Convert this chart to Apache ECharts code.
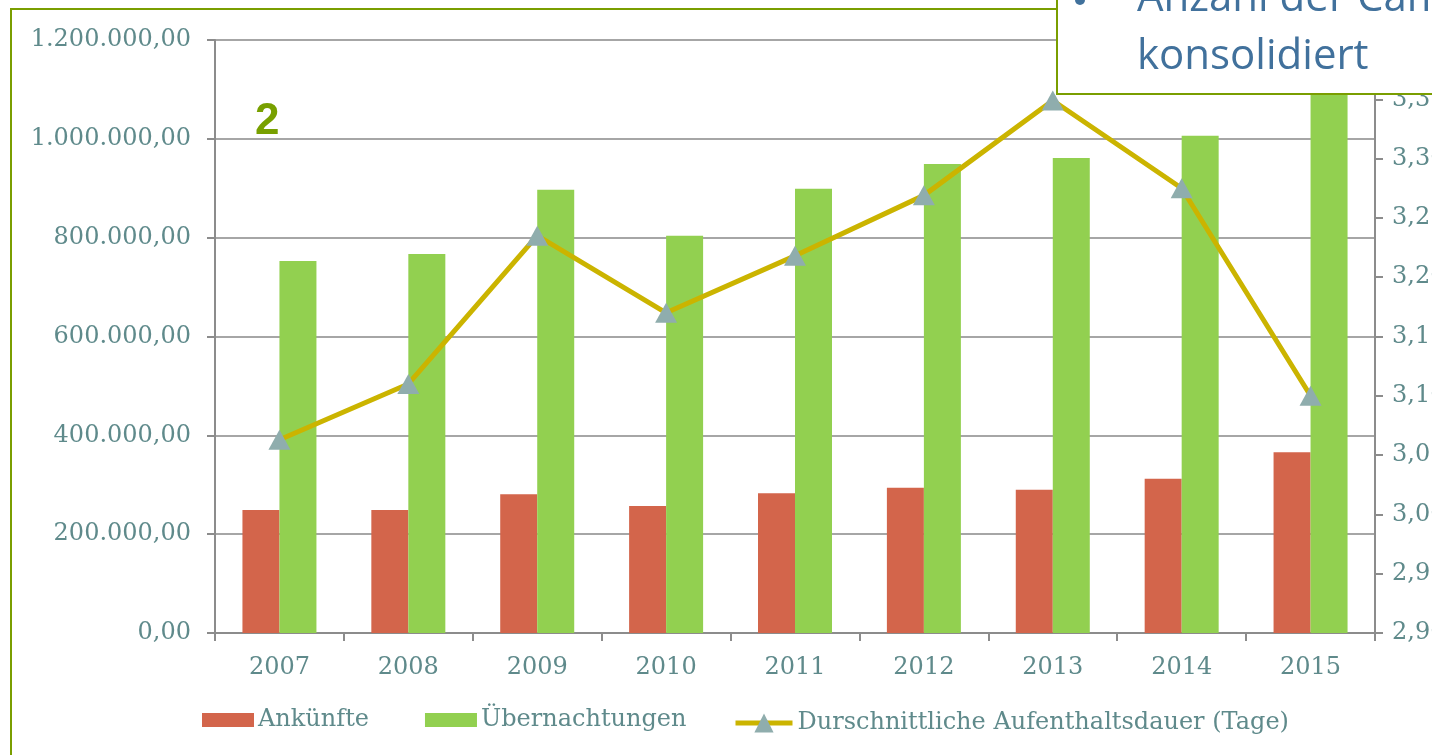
<!DOCTYPE html>
<html>
<head>
<meta charset="utf-8">
<style>
  html, body { margin: 0; padding: 0; background: #fff; }
  #chart { width: 1432px; height: 755px; }
</style>
<script src="https://cdn.jsdelivr.net/npm/echarts@6.0.0/dist/echarts.min.js"></script>
</head>
<body>
<div id="chart"></div>
<script>
// data
var years = ["2007", "2008", "2009", "2010", "2011", "2012", "2013", "2014", "2015"];
var ankuenfte = [249000, 249000, 281000, 257000, 283000, 294000, 290000, 312000, 366000];
var uebernachtungen = [753000, 767000, 897000, 804000, 899000, 949000, 961000, 1006000, 1130000];
var aufenthalt = [3.063, 3.11, 3.235, 3.17, 3.218, 3.269, 3.349, 3.275, 3.10];
var seriesNames = ["Ankünfte", "Übernachtungen", "Durschnittliche Aufenthaltsdauer (Tage)"];

var labelColor = "#5f8a8b";
var axisGray = "#8c8c8c";
var serif = "DejaVu Serif";

function fmtLeft(v) {
  var s = Math.round(v).toString().replace(/\B(?=(\d{3})+(?!\d))/g, ".");
  return s + ",00";
}
function fmtRight(v) {
  return v.toFixed(2).replace(".", ",");
}

var chart = echarts.init(document.getElementById("chart"));

var option = {
  backgroundColor: "#fff",
  animation: false,
  grid: { left: 215, right: 57, top: 40, bottom: 122, outerBoundsMode: "none" },
  legend: [
    {
      top: 703,
      left: 197,
      itemWidth: 52,
      itemHeight: 14,
      itemGap: 56,
      textStyle: { color: labelColor, fontFamily: serif, fontSize: 24, padding: [0, 0, 0, -1] },
      data: [
        { name: seriesNames[0], icon: "rect" },
        { name: seriesNames[1], icon: "rect" }
      ]
    },
    {
      top: 706,
      left: 728,
      itemWidth: 57,
      itemHeight: 24,
      textStyle: { color: labelColor, fontFamily: serif, fontSize: 24, padding: [0, 0, 0, 0] },
      data: [
        { name: seriesNames[2], lineStyle: { width: 5 } }
      ]
    }
  ],
  xAxis: {
    type: "category",
    data: years,
    axisLine: { lineStyle: { color: axisGray, width: 2 } },
    axisTick: { show: true, length: 8, lineStyle: { color: axisGray, width: 2 } },
    axisLabel: { color: labelColor, fontFamily: serif, fontSize: 24, margin: 23 }
  },
  yAxis: [
    {
      type: "value",
      min: 0,
      max: 1200000,
      interval: 200000,
      axisLine: { show: true, lineStyle: { color: axisGray, width: 2 } },
      axisTick: { show: true, length: 8, lineStyle: { color: axisGray, width: 2 } },
      splitLine: { show: true, lineStyle: { color: "#a6a6a6", width: 2 } },
      axisLabel: { color: labelColor, fontFamily: serif, fontSize: 24, margin: 24, formatter: fmtLeft }
    },
    {
      type: "value",
      min: 2.9,
      max: 3.4,
      interval: 0.05,
      position: "right",
      axisLine: { show: true, lineStyle: { color: axisGray, width: 2 } },
      axisTick: { show: true, length: 8, lineStyle: { color: axisGray, width: 2 } },
      splitLine: { show: false },
      axisLabel: { color: labelColor, fontFamily: serif, fontSize: 24, margin: 17, formatter: fmtRight }
    }
  ],
  series: [
    {
      name: seriesNames[0],
      type: "bar",
      data: ankuenfte,
      barWidth: 37,
      barGap: "0%",
      itemStyle: { color: "#d3654b" }
    },
    {
      name: seriesNames[1],
      type: "bar",
      data: uebernachtungen,
      barWidth: 37,
      barGap: "0%",
      itemStyle: { color: "#92d050" }
    },
    {
      name: seriesNames[2],
      type: "line",
      yAxisIndex: 1,
      data: aufenthalt,
      symbol: "triangle",
      symbolSize: [22, 20],
      lineStyle: { color: "#cbb400", width: 5 },
      itemStyle: { color: "#8fadad" },
      z: 5
    }
  ],
  graphic: [
    {
      type: "rect",
      z: 0,
      silent: true,
      shape: { x: 11, y: 9, width: 1500, height: 800 },
      style: { fill: "none", stroke: "#7a9e00", lineWidth: 2 }
    },
    {
      type: "text",
      z: 10,
      left: 255,
      top: 100,
      style: { text: "2", fill: "#78a000", font: "bold 44px 'Liberation Sans'" }
    },
    {
      type: "rect",
      z: 20,
      silent: true,
      shape: { x: 1057, y: -10, width: 420, height: 104 },
      style: { fill: "#fff", stroke: "#7a9e00", lineWidth: 2 }
    },
    {
      type: "circle",
      z: 21,
      shape: { cx: 1080, cy: 0, r: 5 },
      style: { fill: "#41719c" }
    },
    {
      type: "text",
      z: 21,
      x: 1137,
      y: -30,
      style: {
        text: "Anzahl der Campingplätze\nkonsolidiert",
        fill: "#41719c",
        font: "42px 'Open Sans'",
        lineHeight: 58
      }
    }
  ]
};

chart.setOption(option);
</script>
</body>
</html>
